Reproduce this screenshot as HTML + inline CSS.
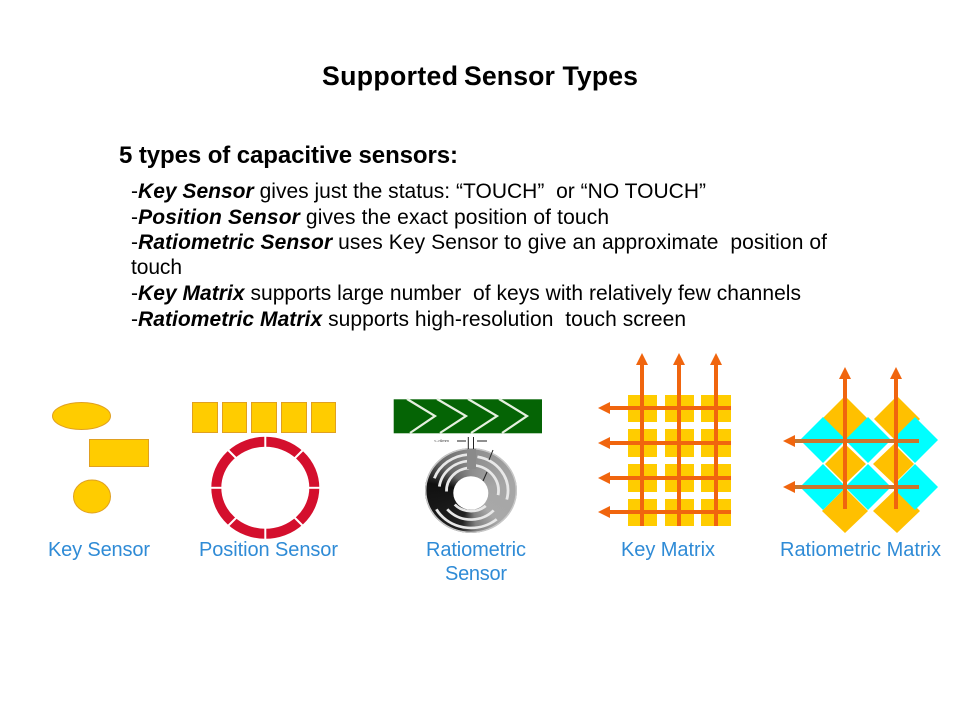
<!DOCTYPE html>
<html><head><meta charset="utf-8"><style>
html,body{margin:0;padding:0;background:#fff}
svg{display:block}
text{font-family:"Liberation Sans",sans-serif;white-space:pre}
.t{font-size:21px;fill:#000}
.l{font-size:20px;fill:#2f8bd6}
</style></head><body>
<svg width="960" height="720" viewBox="0 0 960 720" xmlns="http://www.w3.org/2000/svg">
<rect width="960" height="720" fill="#fff"/>
<text x="322" y="85" font-size="26.67" font-weight="bold" textLength="136">Supported</text>
<text x="464" y="85" font-size="26.67" font-weight="bold" textLength="174">Sensor Types</text>
<text x="119" y="163" font-size="24" font-weight="bold" textLength="339">5 types of capacitive sensors:</text>
<text class="t" x="131" y="198" textLength="575">-<tspan font-weight="bold" font-style="italic">Key Sensor</tspan> gives just the status: “TOUCH”  or “NO TOUCH”</text>
<text class="t" x="131" y="224" textLength="478">-<tspan font-weight="bold" font-style="italic">Position Sensor</tspan> gives the exact position of touch</text>
<text class="t" x="131" y="249" textLength="696">-<tspan font-weight="bold" font-style="italic">Ratiometric Sensor</tspan> uses Key Sensor to give an approximate  position of</text>
<text class="t" x="131" y="274" textLength="51">touch</text>
<text class="t" x="131" y="300" textLength="670">-<tspan font-weight="bold" font-style="italic">Key Matrix</tspan> supports large number  of keys with relatively few channels</text>
<text class="t" x="131" y="326" textLength="555">-<tspan font-weight="bold" font-style="italic">Ratiometric Matrix</tspan> supports high-resolution  touch screen</text>

<g fill="#ffcc00" stroke="#e0a020" stroke-width="1">
<ellipse cx="81.5" cy="416" rx="29" ry="13.5"/>
<rect x="89.5" y="439.5" width="59" height="27"/>
<ellipse cx="92" cy="496.5" rx="18.5" ry="16.5"/>
<rect x="192.5" y="402.5" width="25" height="30"/>
<rect x="222.5" y="402.5" width="24" height="30"/>
<rect x="251.5" y="402.5" width="25" height="30"/>
<rect x="281.5" y="402.5" width="25" height="30"/>
<rect x="311.5" y="402.5" width="24" height="30"/>
</g>

<ellipse cx="265.3" cy="487.8" rx="49" ry="46" fill="none" stroke="#d40f2d" stroke-width="10"/>
<g stroke="#fff" stroke-width="2">
<line x1="265.3" y1="434" x2="265.3" y2="449"/><line x1="265.3" y1="527" x2="265.3" y2="541"/>
<line x1="209" y1="487.8" x2="222" y2="487.8"/><line x1="309" y1="487.8" x2="322" y2="487.8"/>
<line x1="228" y1="450" x2="237" y2="459"/><line x1="303" y1="450" x2="294" y2="459"/>
<line x1="228" y1="526" x2="237" y2="517"/><line x1="303" y1="526" x2="294" y2="517"/>
</g>

<rect x="393.7" y="399.3" width="148.3" height="34" fill="#056405"/>
<g fill="none" stroke="#e6f0e0" stroke-width="2.2">
<polyline points="407,399 435,416 410,433"/>
<polyline points="437,399 466,416 440,433"/>
<polyline points="468,399 497,416 471,433"/>
<polyline points="499,399 527,416 502,433"/>
</g>

<foreignObject x="425" y="448" width="92" height="85">
<div xmlns="http://www.w3.org/1999/xhtml" style="width:92px;height:85px;border-radius:50%;background:conic-gradient(#8c8c8c 0deg,#a6a6a6 80deg,#a8a8a8 140deg,#808080 172deg,#222 195deg,#101010 280deg,#666 312deg,#8c8c8c 360deg)"></div>
</foreignObject>
<ellipse cx="471" cy="490.5" rx="45.3" ry="41.8" fill="none" stroke="#c8c8c8" stroke-width="1.4"/>
<g fill="none" stroke="#e8e8e8" stroke-width="2.8" transform="translate(471 490.7) scale(1 0.93)">
<circle r="39" pathLength="360" stroke-dasharray="66 360" transform="rotate(200)"/>
<circle r="32" pathLength="360" stroke-dasharray="78 360" transform="rotate(188)"/>
<circle r="24.5" pathLength="360" stroke-dasharray="88 360" transform="rotate(178)"/>
<circle r="37" pathLength="360" stroke-dasharray="95 360" transform="rotate(280)"/>
<circle r="27.5" pathLength="360" stroke-dasharray="90 360" transform="rotate(280)"/>
<circle r="40" pathLength="360" stroke-dasharray="100 360" transform="rotate(50)"/>
<circle r="31" pathLength="360" stroke-dasharray="97 360" transform="rotate(43)"/>
<circle r="22" pathLength="360" stroke-dasharray="90 360" transform="rotate(48)"/>
</g>
<ellipse cx="470.8" cy="493" rx="17.5" ry="16.8" fill="#fff"/>
<rect x="467" y="449" width="9" height="20" fill="#8a8a8a"/>
<g stroke="#222" stroke-width="1" fill="none">
<line x1="468.3" y1="437" x2="468.3" y2="449"/><line x1="473.5" y1="437" x2="473.5" y2="449"/>
<line x1="457" y1="441" x2="466" y2="441"/><line x1="477" y1="441" x2="487" y2="441"/>
<line x1="493" y1="450" x2="489" y2="460"/><line x1="487" y1="472" x2="483" y2="481"/>
</g>
<text x="434" y="442" font-size="4" fill="#333">&lt;-&gt;6mm</text>

<g fill="#ffcc00">
<rect x="628" y="395" width="29" height="27"/><rect x="665" y="395" width="29" height="27"/><rect x="701" y="395" width="30" height="27"/>
<rect x="628" y="429" width="29" height="28"/><rect x="665" y="429" width="29" height="28"/><rect x="701" y="429" width="30" height="28"/>
<rect x="628" y="464" width="29" height="28"/><rect x="665" y="464" width="29" height="28"/><rect x="701" y="464" width="30" height="28"/>
<rect x="628" y="499" width="29" height="27"/><rect x="665" y="499" width="29" height="27"/><rect x="701" y="499" width="30" height="27"/>
</g>
<g stroke="#f0650e" stroke-width="4">
<line x1="642" y1="526" x2="642" y2="362"/><line x1="679" y1="526" x2="679" y2="362"/><line x1="716" y1="526" x2="716" y2="362"/>
<line x1="731" y1="408" x2="607" y2="408"/><line x1="731" y1="443" x2="607" y2="443"/><line x1="731" y1="478" x2="607" y2="478"/><line x1="731" y1="512" x2="607" y2="512"/>
</g>
<g fill="#f0650e">
<polygon points="642,353 636,365 648,365"/><polygon points="679,353 673,365 685,365"/><polygon points="716,353 710,365 722,365"/>
<polygon points="598,408 610,402 610,414"/><polygon points="598,443 610,437 610,449"/><polygon points="598,478 610,472 610,484"/><polygon points="598,512 610,506 610,518"/>
</g>

<g fill="#ffc000">
<polygon points="845,396 868,419 845,442 822,419"/>
<polygon points="897,396 920,419 897,442 874,419"/>
<polygon points="845,444 866,464 845,484 825,464"/>
<polygon points="894,444 914,464 894,484 873,464"/>
<polygon points="845,488 868,511 845,533 822,511"/>
<polygon points="897,488 920,511 897,533 873,511"/>
</g>
<g fill="#00ffff">
<polygon points="823,417 846,440 823,463 800,440"/>
<polygon points="868,417 891,440 868,463 845,440"/>
<polygon points="915,417 938,440 915,463 892,440"/>
<polygon points="823,464 846,487 823,510 800,487"/>
<polygon points="868,464 891,487 868,510 845,487"/>
<polygon points="915,464 938,487 915,510 892,487"/>
</g>
<g stroke="#c8762e" stroke-width="4">
<line x1="919" y1="441" x2="792" y2="441"/><line x1="919" y1="487" x2="792" y2="487"/>
</g>
<g stroke="#f0650e" stroke-width="4">
<line x1="845" y1="509" x2="845" y2="376"/><line x1="896" y1="509" x2="896" y2="376"/>
</g>
<g fill="#f0650e">
<polygon points="845,367 839,379 851,379"/><polygon points="896,367 890,379 902,379"/>
<polygon points="783,441 795,435 795,447"/><polygon points="783,487 795,481 795,493"/>
</g>

<text class="l" x="48" y="556" textLength="102">Key Sensor</text>
<text class="l" x="199" y="556" textLength="139">Position Sensor</text>
<text class="l" x="426" y="556" textLength="100">Ratiometric</text>
<text class="l" x="445" y="580" textLength="62">Sensor</text>
<text class="l" x="621" y="556" textLength="94">Key Matrix</text>
<text class="l" x="780" y="556" textLength="161">Ratiometric Matrix</text>
</svg>
</body></html>
